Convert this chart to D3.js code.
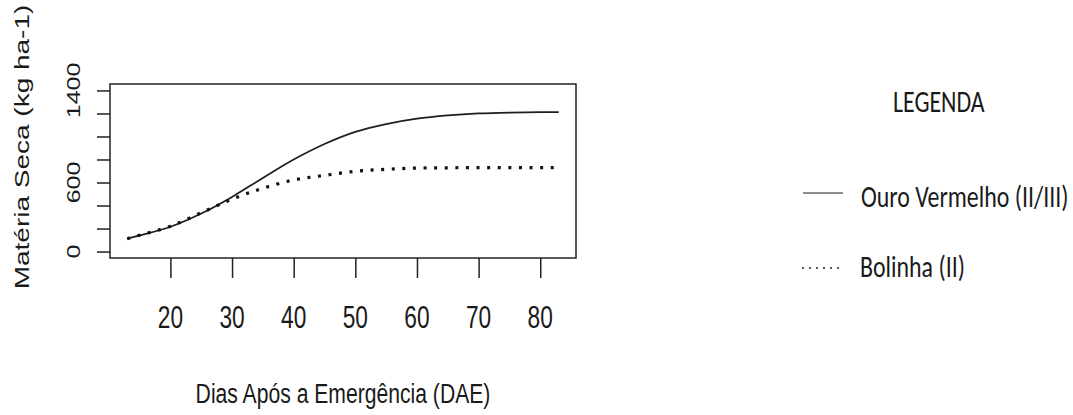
<!DOCTYPE html>
<html>
<head>
<meta charset="utf-8">
<script src="https://cdn.jsdelivr.net/npm/d3@7"></script>
<style>
  html, body { margin: 0; padding: 0; background: #fff; }
  svg { display: block; }
</style>
</head>
<body>
<svg id="chart" width="1073" height="415"></svg>
<script>
// Dry-matter accumulation (kg/ha) by days after emergence, two cultivars
const days = [13, 15, 20, 25, 30, 35, 40, 45, 50, 55, 60, 65, 70, 75, 80, 83];
const ouroVermelho = [112, 140, 215, 330, 475, 640, 800, 935, 1040, 1108, 1155, 1183, 1200, 1208, 1211, 1212];
const bolinha = [112, 142, 220, 337, 455, 550, 622, 662, 697, 715, 725, 728, 729, 729, 729, 729];

const xTicks = [20, 30, 40, 50, 60, 70, 80];
const yTicks = [0, 200, 400, 600, 800, 1000, 1200, 1400];
const yTickLabels = ["0", "", "", "600", "", "", "", "1400"];

const seriesNames = ["Ouro Vermelho (II/III)", "Bolinha (II)"];
const legendTitle = "LEGENDA";
const xTitle = "Dias Após a Emergência (DAE)";
const yTitle = "Matéria Seca (kg ha-1)";

const svg = d3.select("#chart");
const plot = { left: 110, right: 576, top: 84, bottom: 258 };

// R-style 4% padding around the data range on x, fixed 0..1400 on y
const xMin = d3.min(days), xMax = d3.max(days);
const xPad = (xMax - xMin) * 0.04;
const x = d3.scaleLinear().domain([xMin - xPad, xMax + xPad]).range([plot.left, plot.right]);
const yPad = 1400 * 0.04;
const y = d3.scaleLinear().domain([0 - yPad, 1400 + yPad]).range([plot.bottom, plot.top]);

const axisFont = "'Liberation Sans', Arial, sans-serif";
const legendFont = "Carlito, Lato, 'Open Sans', sans-serif";
const sx = 0.73; // horizontal compression of the lettering

function label(parent, px, py, str, size, opts = {}) {
  const rot = opts.rotate ? " rotate(-90)" : "";
  const s = opts.sx ?? sx;
  return parent.append("text")
    .attr("transform", `translate(${px},${py}) scale(${s},1)${rot}`)
    .attr("text-anchor", opts.anchor || "middle")
    .attr("font-family", opts.family || axisFont)
    .attr("font-size", size)
    .attr("fill", opts.fill || "#1a1a1a")
    .text(str);
}

// Series
const line = d3.line().x((d, i) => x(days[i])).y(d => y(d)).curve(d3.curveMonotoneX);

svg.append("path")
  .attr("d", line(ouroVermelho))
  .attr("fill", "none")
  .attr("stroke", "#1e1e1e")
  .attr("stroke-width", 1.7);

svg.append("path")
  .attr("d", line(bolinha))
  .attr("fill", "none")
  .attr("stroke", "#111")
  .attr("stroke-width", 3.2)
  .attr("stroke-dasharray", "3,7.6");

// Plot frame
svg.append("rect")
  .attr("x", plot.left).attr("y", plot.top)
  .attr("width", plot.right - plot.left).attr("height", plot.bottom - plot.top)
  .attr("fill", "none").attr("stroke", "#222").attr("stroke-width", 1.5);

// Axes (ticks only; the frame supplies the axis lines)
const xAxis = svg.append("g").attr("transform", `translate(0,${plot.bottom})`)
  .call(d3.axisBottom(x).tickValues(xTicks).tickSize(20).tickFormat(""));
xAxis.select(".domain").remove();
xAxis.selectAll(".tick line").attr("stroke", "#222").attr("stroke-width", 1.5);

const yAxis = svg.append("g").attr("transform", `translate(${plot.left},0)`)
  .call(d3.axisLeft(y).tickValues(yTicks).tickSize(13).tickFormat(""));
yAxis.select(".domain").remove();
yAxis.selectAll(".tick line").attr("stroke", "#222").attr("stroke-width", 1.5);

// Tick labels
xTicks.forEach(t => label(svg, x(t), 328, String(t), 32, { sx: 0.71 }));
yTicks.forEach((t, i) => {
  if (yTickLabels[i]) label(svg, 80, y(t), yTickLabels[i], 25, { rotate: true, sx: 0.75 });
});

// Axis titles
label(svg, (plot.left + plot.right) / 2, 403, xTitle, 28, { sx: 0.755 });
label(svg, 29, 147, yTitle, 28, { rotate: true, sx: 0.75 });

// Legend
const lg = svg.append("g");
const lsx = 0.77;
label(lg, 893, 112, legendTitle, 31, { anchor: "start", family: legendFont, sx: lsx });

lg.append("line")
  .attr("x1", 803).attr("x2", 843).attr("y1", 193).attr("y2", 193)
  .attr("stroke", "#666").attr("stroke-width", 1.3);
label(lg, 861, 207, seriesNames[0], 31, { anchor: "start", family: legendFont, sx: lsx });

lg.append("line")
  .attr("x1", 802).attr("x2", 841).attr("y1", 268).attr("y2", 268)
  .attr("stroke", "#555").attr("stroke-width", 2)
  .attr("stroke-dasharray", "2,5");
label(lg, 860, 277, seriesNames[1], 31, { anchor: "start", family: legendFont, sx: lsx });
</script>
</body>
</html>
